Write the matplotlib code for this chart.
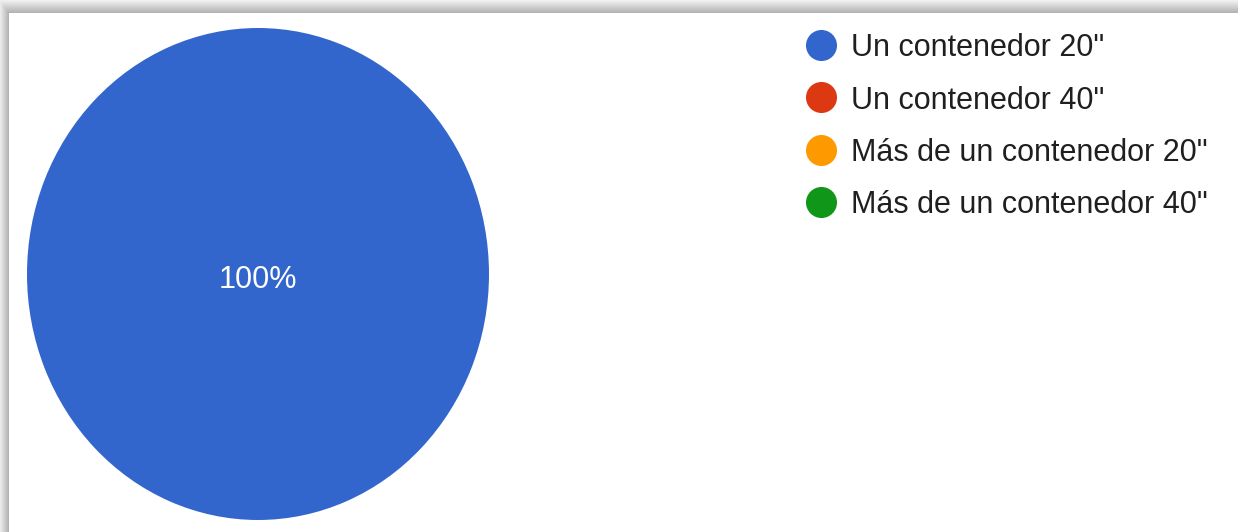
import numpy as np
import matplotlib.pyplot as plt

# Tipo de carga
categorias = ['Un contenedor 20"', 'Un contenedor 40"',
              'Más de un contenedor 20"', 'Más de un contenedor 40"']
porcentajes = [100, 0, 0, 0]
colores = ['#3366cc', '#dc3912', '#ff9900', '#109618']

plt.rcParams['font.family'] = ['Liberation Sans', 'DejaVu Sans']

W, H = 1238, 532
fig = plt.figure(figsize=(W / 100, H / 100), dpi=100)

# fondo con sombra gris arriba y a la izquierda
fondo = np.ones((H, W))
yy = np.arange(H)[:, None] * np.ones((1, W))
xx = np.ones((H, 1)) * np.arange(W)[None, :]
sombra_top = 0.94 - 0.24 * (yy / 12.0)
sombra_left = 0.92 - 0.22 * (xx / 8.0)
top = yy < 13
left = xx < 9
fondo = np.where(top, sombra_top, fondo)
fondo = np.where(left & ~top, sombra_left, fondo)
fondo = np.where(top & left, np.maximum(sombra_top, sombra_left), fondo)
bg = fig.add_axes([0, 0, 1, 1])
bg.imshow(fondo, cmap='gray', vmin=0, vmax=1, aspect='auto', interpolation='bilinear')
bg.axis('off')

# tarta
ax = fig.add_axes([27 / W, 1 - 520 / H, 462 / W, 492 / H])


def etiqueta(p):
    return f'{p:.0f}%' if p > 0.5 else ''


wedges, textos, autotextos = ax.pie(porcentajes, colors=colores, startangle=90,
                                    counterclock=False, autopct=etiqueta,
                                    pctdistance=0.0,
                                    textprops={'color': 'white', 'fontsize': 22})
for t in autotextos:
    t.set_va('center_baseline')
    t.set_y(-0.01)
ax.set_aspect('auto')
ax.set_xlim(-1, 1)
ax.set_ylim(-1, 1)
ax.axis('off')

# leyenda
lg = fig.add_axes([0, 0, 1, 1])
lg.set_xlim(0, W)
lg.set_ylim(H, 0)
lg.axis('off')
for i, (cat, col) in enumerate(zip(categorias, colores)):
    y = 45 + i * 52.3
    lg.scatter([821], [y], s=31 ** 2 * 0.52, color=col, linewidths=0)
    lg.text(851, y, cat, fontsize=22, color='#1f1f1f', va='center_baseline', ha='left')

fig.savefig('out.png', dpi=100)
